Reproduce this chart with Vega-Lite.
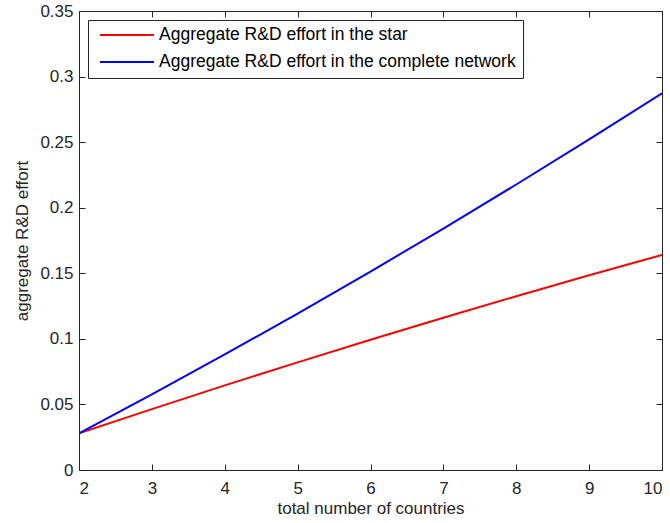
{
  "$schema": "https://vega.github.io/schema/vega-lite/v6.json",
  "width": 583,
  "height": 459,
  "autosize": {"type": "none"},
  "padding": {"left": 79, "top": 11, "right": 8, "bottom": 53},
  "background": "white",
  "config": {
    "font": "Liberation Sans",
    "view": {"stroke": "#262626", "strokeWidth": 1},
    "axis": {
      "grid": false,
      "domainColor": "#262626",
      "tickColor": "#262626",
      "tickSize": -6,
      "labelColor": "#262626",
      "titleColor": "#262626",
      "labelFont": "Liberation Sans",
      "titleFont": "Liberation Sans",
      "labelFontSize": 17,
      "titleFontSize": 17,
      "titleFontWeight": "normal"
    }
  },
  "data": {
    "values": [
      {"n": 2, "effort": 0.028, "series": "Aggregate R&D effort in the star"},
      {"n": 3, "effort": 0.0464, "series": "Aggregate R&D effort in the star"},
      {"n": 4, "effort": 0.0645, "series": "Aggregate R&D effort in the star"},
      {"n": 5, "effort": 0.0821, "series": "Aggregate R&D effort in the star"},
      {"n": 6, "effort": 0.0993, "series": "Aggregate R&D effort in the star"},
      {"n": 7, "effort": 0.1161, "series": "Aggregate R&D effort in the star"},
      {"n": 8, "effort": 0.1325, "series": "Aggregate R&D effort in the star"},
      {"n": 9, "effort": 0.1485, "series": "Aggregate R&D effort in the star"},
      {"n": 10, "effort": 0.164, "series": "Aggregate R&D effort in the star"},
      {"n": 2, "effort": 0.028, "series": "Aggregate R&D effort in the complete network"},
      {"n": 3, "effort": 0.0577, "series": "Aggregate R&D effort in the complete network"},
      {"n": 4, "effort": 0.0881, "series": "Aggregate R&D effort in the complete network"},
      {"n": 5, "effort": 0.1193, "series": "Aggregate R&D effort in the complete network"},
      {"n": 6, "effort": 0.1513, "series": "Aggregate R&D effort in the complete network"},
      {"n": 7, "effort": 0.1841, "series": "Aggregate R&D effort in the complete network"},
      {"n": 8, "effort": 0.2177, "series": "Aggregate R&D effort in the complete network"},
      {"n": 9, "effort": 0.2521, "series": "Aggregate R&D effort in the complete network"},
      {"n": 10, "effort": 0.2873, "series": "Aggregate R&D effort in the complete network"}
    ]
  },
  "layer": [
    {
      "mark": {"type": "line", "strokeWidth": 2, "clip": true},
      "encoding": {
        "x": {
          "field": "n", "type": "quantitative",
          "scale": {"domain": [2, 10], "nice": false, "zero": false},
          "axis": {"orient": "bottom", "values": [2, 3, 4, 5, 6, 7, 8, 9, 10], "labelPadding": 16, "title": "total number of countries", "titlePadding": 4, "format": "d"}
        },
        "y": {
          "field": "effort", "type": "quantitative",
          "scale": {"domain": [0, 0.35], "nice": false},
          "axis": {"orient": "left", "values": [0, 0.05, 0.1, 0.15, 0.2, 0.25, 0.3, 0.35], "format": "~g", "labelPadding": 12, "title": "aggregate R&D effort", "titlePadding": 8}
        },
        "color": {
          "field": "series", "type": "nominal",
          "scale": {
            "domain": ["Aggregate R&D effort in the star", "Aggregate R&D effort in the complete network"],
            "range": ["#ff0000", "#0000ff"]
          },
          "legend": {
            "title": null,
            "orient": "none",
            "legendX": 9,
            "legendY": 9,
            "symbolType": "stroke",
            "symbolSize": 2916,
            "symbolStrokeWidth": 2,
            "symbolOffset": 4,
            "clipHeight": 16,
            "rowPadding": 9,
            "labelFontSize": 17.5,
            "labelFont": "Liberation Sans",
            "labelColor": "#000000",
            "labelOffset": 4,
            "padding": 7,
            "strokeColor": "#262626",
            "fillColor": "white",
            "labelLimit": 500
          }
        }
      }
    },
    {
      "mark": {"type": "line", "strokeOpacity": 0},
      "encoding": {
        "x": {
          "field": "n", "type": "quantitative",
          "axis": {"orient": "top", "values": [2, 3, 4, 5, 6, 7, 8, 9, 10], "labels": false, "title": null}
        },
        "y": {
          "field": "effort", "type": "quantitative",
          "axis": {"orient": "right", "values": [0, 0.05, 0.1, 0.15, 0.2, 0.25, 0.3, 0.35], "labels": false, "title": null}
        },
        "detail": {"field": "series"}
      }
    }
  ]
}
